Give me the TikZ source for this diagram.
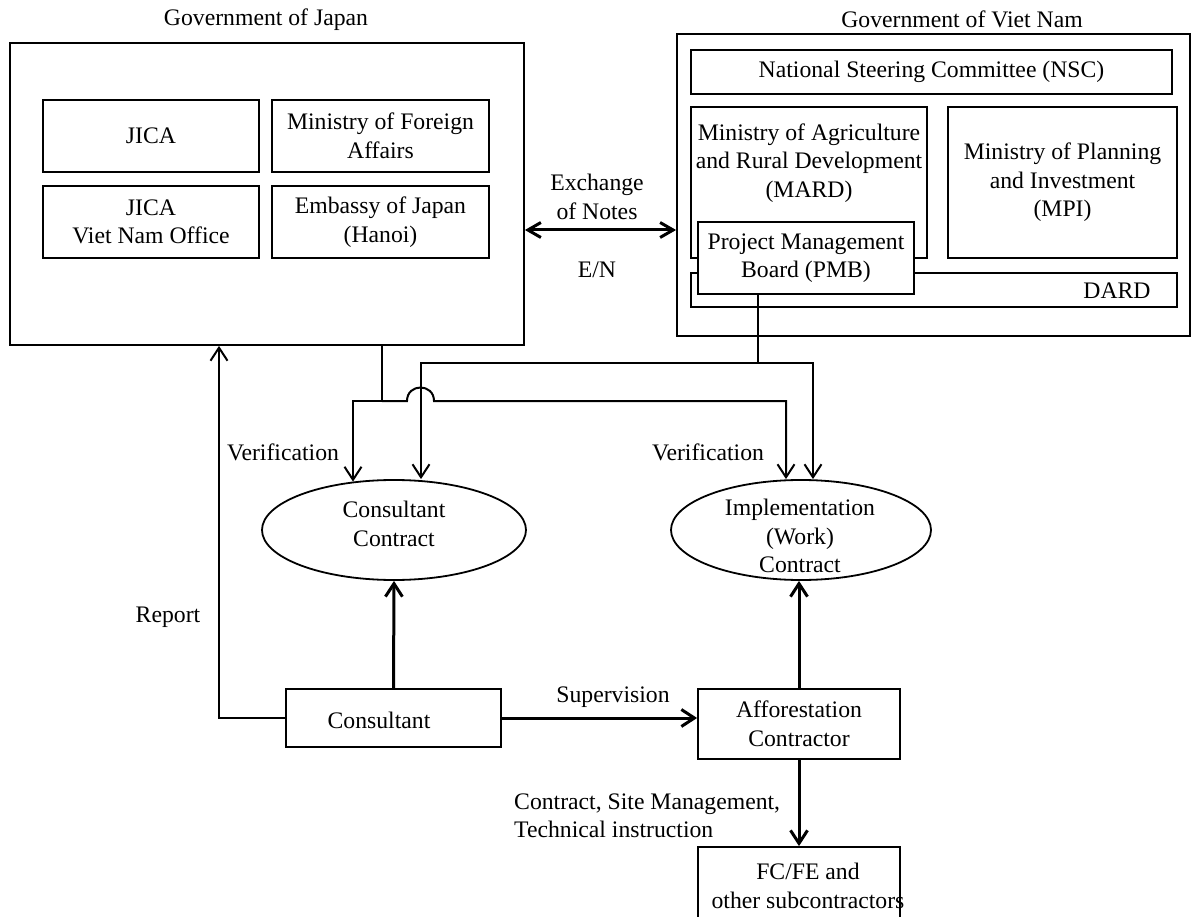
\documentclass[tikz,border=0pt]{standalone}
\usepackage{fontspec}
\setmainfont{Liberation Serif}
\usetikzlibrary{arrows.meta,calc,shapes.geometric}
\begin{document}
\begin{tikzpicture}[x=1pt,y=-1pt,
  font=\fontsize{23.7}{28.5}\selectfont,
  box/.style={draw, line width=1.8pt, rectangle, inner sep=0pt, align=center},
  wh/.style 2 args={minimum width=#1pt, minimum height=#2pt},
  ell/.style={draw, line width=1.8pt, ellipse, inner sep=0pt},
  txt/.style={inner sep=0pt, align=center},
  thinln/.style={line width=2pt},
  thickln/.style={line width=3pt},
  barb/.style={-{Straight Barb[length=13pt,width=17pt]}},
  dbarb/.style={{Straight Barb[length=13pt,width=15pt]}-{Straight Barb[length=13pt,width=15pt]}}]
\useasboundingbox (0,0) rectangle (1192,917);

% Government of Japan
\node[txt] (JapanTitle) at (266,20) {Government of Japan};
\node[box, wh={514}{302}] (Japan) at (267,194) {};
\node[box, wh={216}{72}] (JICA) at (151,136) {JICA};
\node[box, wh={217}{72}] (MOFA) at (380.5,136) {Ministry of Foreign\\Affairs};
\node[box, wh={216}{72}] (JICAVN) at (151,222) {JICA\\Viet Nam Office};
\node[box, wh={217}{72}] (EMB) at (380.5,222) {Embassy of Japan\\(Hanoi)};

% Government of Viet Nam
\node[txt] (VNTitle) at (962,19) {Government of Viet Nam};
\node[box, wh={513}{302}] (VN) at (933.5,185) {};
\node[box, wh={481}{44}] (NSC) at (931.5,72) {National Steering Committee (NSC)};
\node[box, wh={236}{151}] (MARD) at (809,182.5) {};
\node[txt] (MARDtext) at (809,163) {Ministry of Agriculture\\and Rural Development\\(MARD)};
\node[box, wh={229}{151}] (MPI) at (1062.5,182.5) {Ministry of Planning\\and Investment\\(MPI)};
\node[box, wh={486}{34}] (DARD) at (934,290) {};
\node[txt] (DARDtext) at (1117,291) {DARD};
\node[box, wh={216}{72}, fill=white] (PMB) at (806,258) {Project Management\\Board (PMB)};

% Exchange of notes
\coordinate (exy) at (600,230);
\draw[thickln, dbarb] (Japan.east |- exy) -- (VN.west |- exy);
\node[txt] (EXlabel) at (597,197) {Exchange\\of Notes};
\node[txt] (ENlabel) at (597,270) {E/N};

% Contracts
\node[ell, minimum width=264pt, minimum height=100pt] (ConsEll) at (394,530) {};
\node[txt] (ConsEllText) at (394,524) {Consultant\\Contract};
\node[ell, minimum width=260pt, minimum height=100pt] (ImplEll) at (801,530) {};
\node[txt] (ImplEllText) at (800,536) {Implementation\\(Work)\\Contract};

% Lower boxes
\node[box, wh={215}{58}] (Cons) at (393.5,718) {};
\node[txt] (ConsText) at (379,720) {Consultant};
\node[box, wh={202}{70}] (Aff) at (799,724) {Afforestation\\Contractor};
\node[box, wh={202}{75}] (FCFE) at (799,884.5) {};
\node[txt] (FCFEText) at (808,886) {FC/FE and\\other subcontractors};

% helper coordinates
\coordinate (x219) at (219,0);
\coordinate (x353) at (353,0);
\coordinate (x421) at (421,0);
\coordinate (x786) at (786,0);
\coordinate (x813) at (813,0);
\coordinate (y363) at (0,363);
\coordinate (y401) at (0,401);

% PMB lines
\coordinate (pmbo) at ($(PMB.south west)!0.278!(PMB.south east)$);
\coordinate (pb) at (pmbo |- y363);
\draw[thinln] (pmbo) -- (pb);
\draw[thinln, barb] (pb) -| (x421 |- ConsEll.north);
\draw[thinln, barb] (pb) -| (x813 |- ImplEll.north);

% Japan lines
\coordinate (jpo) at ($(Japan.south west)!0.7227!(Japan.south east)$);
\coordinate (jb) at (jpo |- y401);
\draw[thinln] (jpo) -- (jb);
\draw[thinln, barb, shorten >=-2.5pt] (jb) -| (x353 |- ConsEll.north);
\draw[thinln, barb] (jb) -- (407,401) .. controls (407,383) and (434,383) .. (434,401) -| (x786 |- ImplEll.north);

\node[txt] (Ver1) at (283,452) {Verification};
\node[txt] (Ver2) at (708,452) {Verification};

% Report
\draw[thinln, barb] (Cons.west) -| (x219 |- Japan.south);
\node[txt] (RepLabel) at (168,617) {Report};

% thick arrows
\draw[thickln, barb] (Cons.north) -- (ConsEll.south);
\draw[thickln, barb] (Aff.north) -- (Aff.north |- ImplEll.south);
\draw[thickln, barb] (Cons.east) -- (Cons.east -| Aff.west);
\node[txt] (SupLabel) at (613,697) {Supervision};
\draw[thickln, barb] (Aff.south) -- (FCFE.north);
\node[txt, anchor=west, align=left] (CtrLabel) at (514,816) {Contract, Site Management,\\Technical instruction};
\end{tikzpicture}
\end{document}
